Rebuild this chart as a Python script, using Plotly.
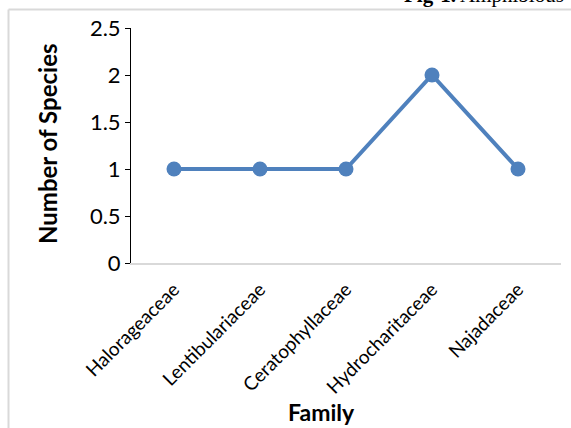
import plotly.graph_objects as go

families = ["Halorageaceae", "Lentibulariaceae", "Ceratophyllaceae",
            "Hydrocharitaceae", "Najadaceae"]
species_counts = [1, 1, 1, 2, 1]
y_ticks = [0, 0.5, 1, 1.5, 2, 2.5]
y_tick_labels = ["0", "0.5", "1", "1.5", "2", "2.5"]

W, H = 571, 428
L, R, T, B = 131, 10, 28, 165
plot_w = W - L - R
plot_h = H - T - B


def px_x(px):
    return (px - L) / plot_w


def px_y(py):
    return (H - B - py) / plot_h


blue = "#4F81BD"
font_main = "Lato, Open Sans, sans-serif"

fig = go.Figure()
fig.add_trace(go.Scatter(
    x=families, y=species_counts, mode="lines+markers",
    line=dict(color=blue, width=4),
    marker=dict(color=blue, size=15),
    showlegend=False, cliponaxis=False,
))

fig.update_layout(
    width=W, height=H,
    margin=dict(l=L, r=R, t=T, b=B),
    paper_bgcolor="white", plot_bgcolor="white",
    xaxis=dict(
        type="category", range=[-0.5, 4.5],
        showline=True, linecolor="#D9D9D9", linewidth=2,
        showgrid=False, zeroline=False, ticks="",
        tickangle=-45, ticklabelstandoff=6,
        tickfont=dict(family=font_main, size=19, color="#000"),
    ),
    yaxis=dict(
        range=[0, 2.5], tickvals=y_ticks, ticktext=y_tick_labels,
        showline=True, linecolor="#000", linewidth=1,
        ticks="outside", ticklen=5, tickcolor="#000",
        showgrid=False, zeroline=False,
        tickfont=dict(family=font_main, size=22, color="#000"),
    ),
    shapes=[
        # chart frame (left and top edges visible)
        dict(type="line", xref="paper", yref="paper",
             x0=px_x(8.5), x1=px_x(8.5), y0=px_y(9.5), y1=px_y(440),
             line=dict(color="#D9D9D9", width=2)),
        dict(type="line", xref="paper", yref="paper",
             x0=px_x(8.5), x1=px_x(580), y0=px_y(9.5), y1=px_y(9.5),
             line=dict(color="#D9D9D9", width=2)),
    ],
    annotations=[
        dict(text="<b>Fig-1.</b> Amphibious", xref="paper", yref="paper",
             x=px_x(566), y=px_y(9), xanchor="right", yanchor="bottom",
             showarrow=False,
             font=dict(family="Liberation Serif, Times New Roman, serif",
                       size=21, color="#000")),
        dict(text="<b>Number of Species</b>", xref="paper", yref="paper",
             x=px_x(47), y=px_y(144), xanchor="center", yanchor="middle",
             textangle=-90, showarrow=False,
             font=dict(family=font_main, size=24, color="#000")),
        dict(text="<b>Family</b>", xref="paper", yref="paper",
             x=px_x(321), y=px_y(428), xanchor="center", yanchor="bottom",
             showarrow=False,
             font=dict(family=font_main, size=23, color="#000")),
    ],
)

fig.write_html("out.html")
